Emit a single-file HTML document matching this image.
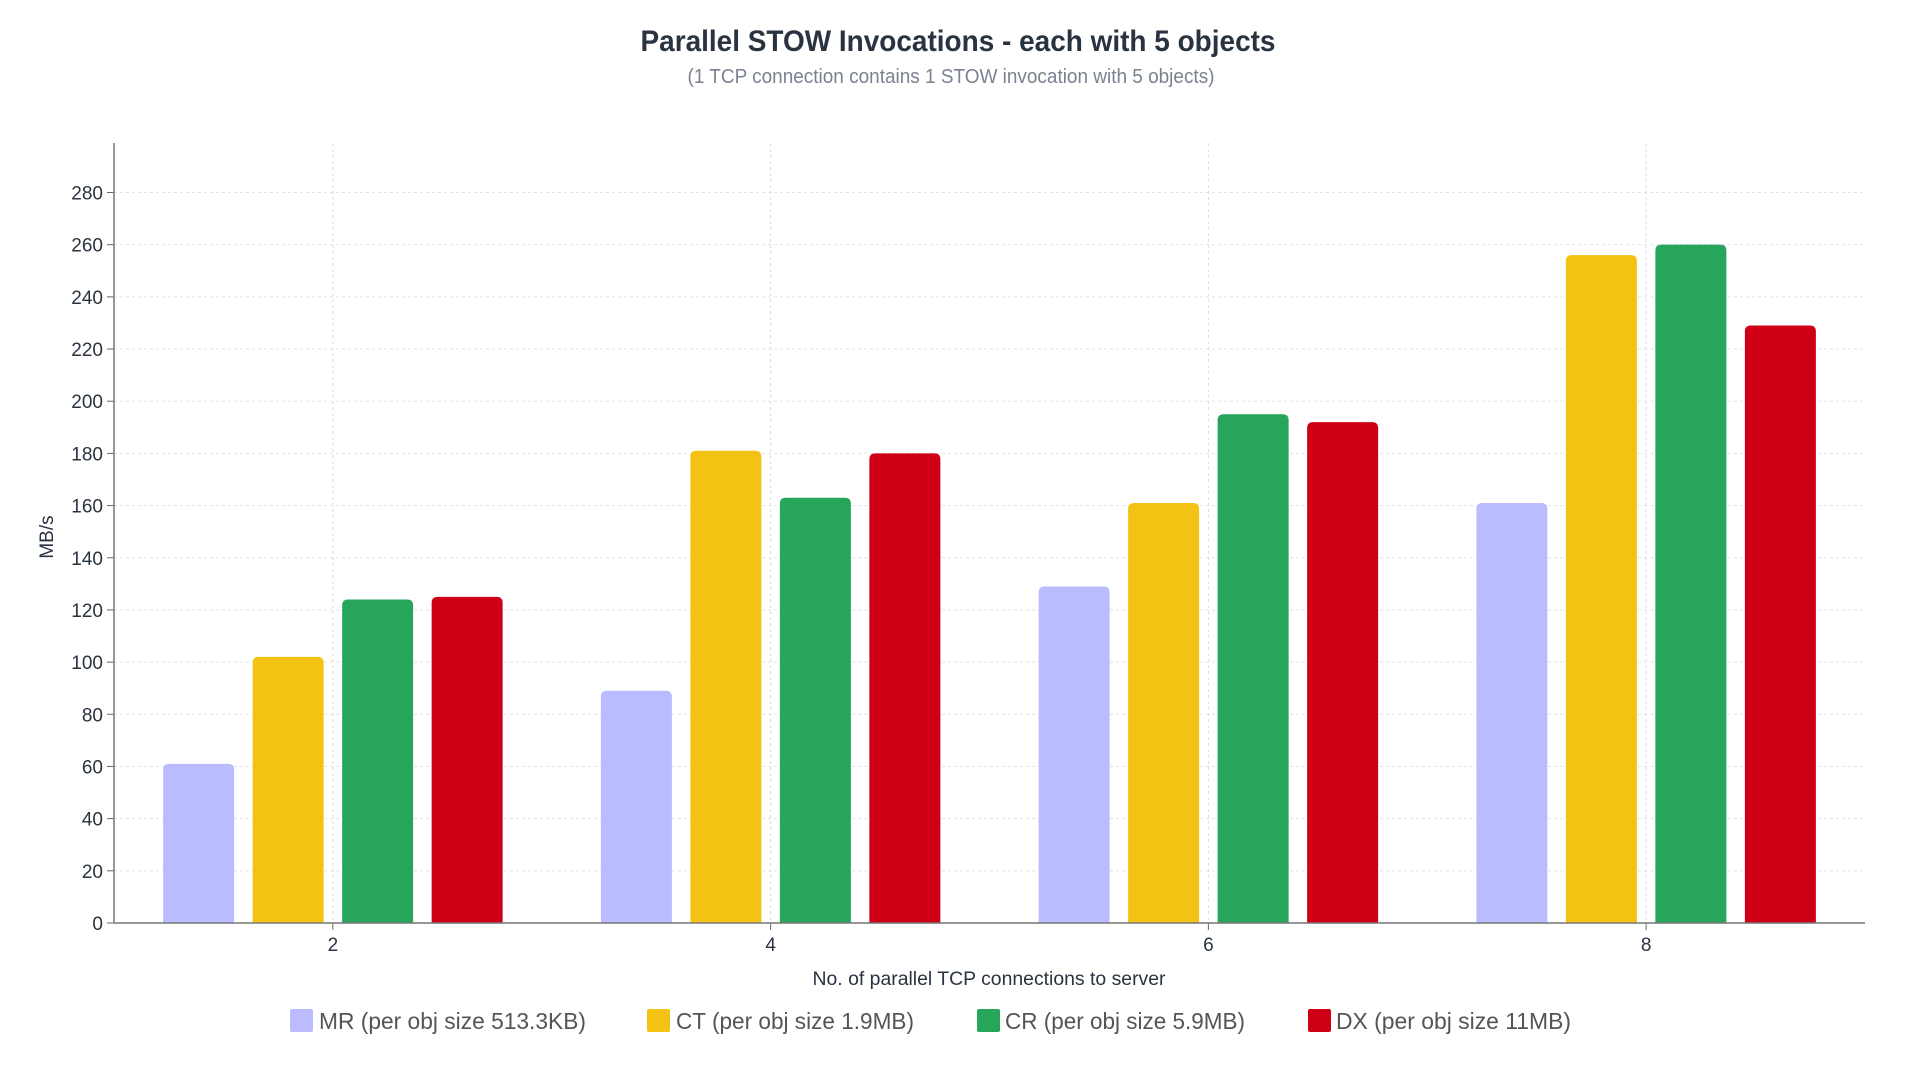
<!DOCTYPE html>
<html><head><meta charset="utf-8"><style>
html,body{margin:0;padding:0;background:#fff;}
svg{display:block;font-family:"Liberation Sans",sans-serif;}
</style></head><body>
<svg id="chart" width="1920" height="1080" viewBox="0 0 1920 1080">
<text x="958" y="51" text-anchor="middle" font-size="30" font-weight="bold" fill="#2a3340" textLength="635" lengthAdjust="spacingAndGlyphs">Parallel STOW Invocations - each with 5 objects</text>
<text x="951" y="83" text-anchor="middle" font-size="20" fill="#7a8290" textLength="527" lengthAdjust="spacingAndGlyphs">(1 TCP connection contains 1 STOW invocation with 5 objects)</text>
<g id="grid"></g>
<g id="bars"></g>
<g id="axes"></g>
<text transform="translate(53,537) rotate(-90)" text-anchor="middle" font-size="19" fill="#2a3340">MB/s</text>
<text x="989" y="985" text-anchor="middle" font-size="19" fill="#2a3340" textLength="353" lengthAdjust="spacingAndGlyphs">No. of parallel TCP connections to server</text>
<g id="legend"></g>
</svg>
<script>
const categories = [2, 4, 6, 8];
const seriesNames = ["MR (per obj size 513.3KB)", "CT (per obj size 1.9MB)", "CR (per obj size 5.9MB)", "DX (per obj size 11MB)"];
const mrValues = [61, 89, 129, 161];
const ctValues = [102, 181, 161, 256];
const crValues = [124, 163, 195, 260];
const dxValues = [125, 180, 192, 229];
const yTicks = [0, 20, 40, 60, 80, 100, 120, 140, 160, 180, 200, 220, 240, 260, 280];

const colors = ["#babcff", "#f3c213", "#27a55b", "#cf0015"];
const series = [mrValues, ctValues, crValues, dxValues];
const NS = "http://www.w3.org/2000/svg";
const L = 114, R = 1865, T = 143, B = 923;
function x(v){ return L + (v - 1) / 8 * (R - L); }
function y(v){ return B - v / 280 * (B - 192.5); }
function mk(tag, attrs, parent){ const e = document.createElementNS(NS, tag); for (const k in attrs) e.setAttribute(k, attrs[k]); parent.appendChild(e); return e; }
const grid = document.getElementById('grid'), bars = document.getElementById('bars'), axes = document.getElementById('axes'), legend = document.getElementById('legend');
yTicks.forEach(t => {
  if (t > 0) {
    const g = mk('line', {x1: L, x2: R, y1: y(t), y2: y(t), stroke: '#e3e3e3', 'stroke-dasharray': '3,3'}, grid);
    
    
  }
  const tk = mk('line', {x1: L - 7, x2: L, y1: y(t), y2: y(t), stroke: '#666'}, axes);
  
  
  const lb = mk('text', {x: L - 11, y: y(t) + 7, 'text-anchor': 'end', 'font-size': 19, fill: '#2a3340'}, axes);
  lb.textContent = t;
  
  
});
categories.forEach(c => {
  const g = mk('line', {x1: x(c), x2: x(c), y1: T, y2: B, stroke: '#dcdcdc', 'stroke-dasharray': '3,3'}, grid);
  
  
  const tk = mk('line', {x1: x(c), x2: x(c), y1: B, y2: B + 7, stroke: '#666'}, axes);
  
  
  const lb = mk('text', {x: x(c), y: B + 28, 'text-anchor': 'middle', 'font-size': 19, fill: '#2a3340'}, axes);
  lb.textContent = c;
  
  
});
const ya = mk('line', {x1: L, x2: L, y1: T, y2: B, stroke: '#777', 'stroke-width': 1.5}, axes);


const xa = mk('line', {x1: L, x2: R, y1: B, y2: B, stroke: '#777', 'stroke-width': 1.5}, axes);


const bw = 71, step = 89.5;
series.forEach((vals, si) => {
  vals.forEach((v, ci) => {
    const cx = x(categories[ci]) + (si - 1.5) * step;
    const top = y(v), r = 6;
    const d = `M${cx-bw/2},${B} L${cx-bw/2},${top+r} Q${cx-bw/2},${top} ${cx-bw/2+r},${top} L${cx+bw/2-r},${top} Q${cx+bw/2},${top} ${cx+bw/2},${top+r} L${cx+bw/2},${B} Z`;
    const p = mk('path', {d: d, fill: colors[si]}, bars);
    
    
  });
});
const legX = [290, 647, 977, 1308], legT = [319, 676, 1005, 1336], legW = [267, 238, 240, 235];
seriesNames.forEach((n, i) => {
  const g = mk('g', {}, legend);
  
  
  mk('rect', {x: legX[i], y: 1009, width: 23, height: 23, rx: 2, fill: colors[i]}, g);
  const t = mk('text', {x: legT[i], y: 1029, 'font-size': 23, fill: '#555', textLength: legW[i], lengthAdjust: 'spacingAndGlyphs'}, g);
  t.textContent = n;
});
</script>
</body></html>
